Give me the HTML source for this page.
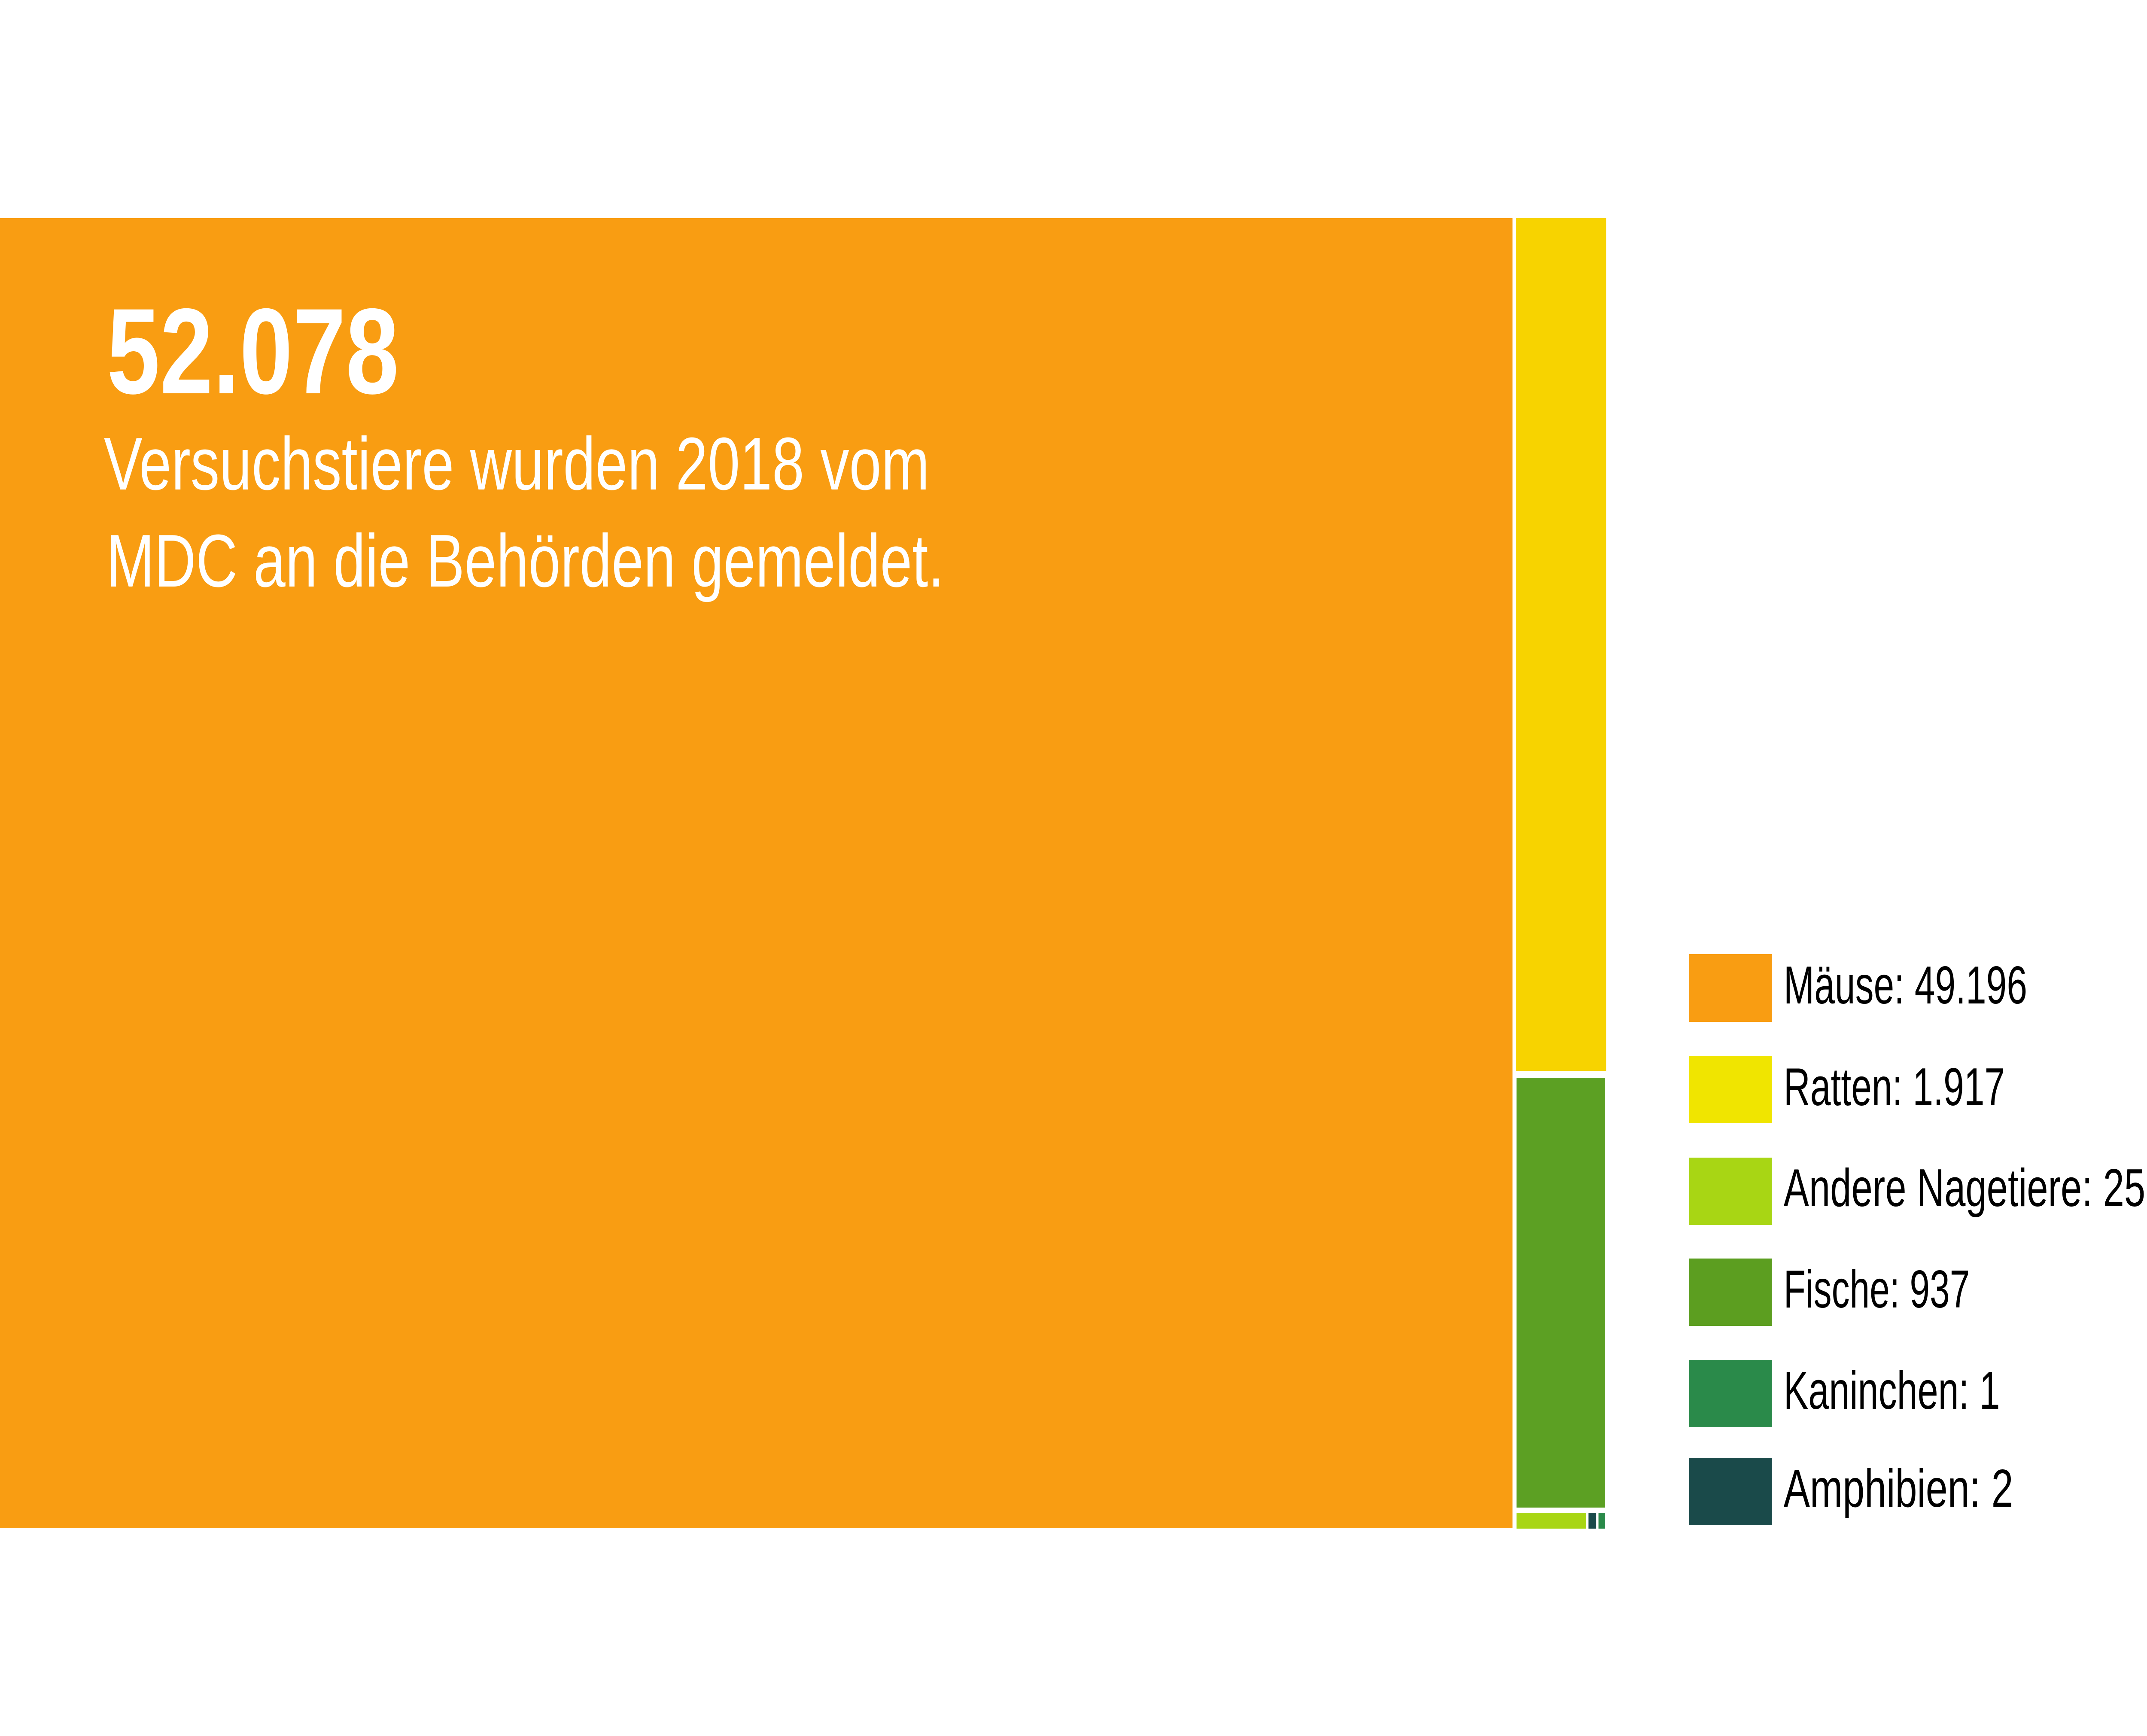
<!DOCTYPE html>
<html><head><meta charset="utf-8"><style>
html,body{margin:0;padding:0;background:#fff;width:100%;height:100%;overflow:hidden}
svg{display:block;position:absolute;left:0;top:0;width:100vw;height:100vh}
</style></head><body>
<svg viewBox="0 0 6470 4043" preserveAspectRatio="none" xmlns="http://www.w3.org/2000/svg">
<rect x="0" y="0" width="6470" height="4043" fill="#fff"/>
<rect x="0" y="508" width="4558" height="3051" fill="#F99D12"/>
<rect x="4568" y="508" width="272" height="1986" fill="#F7D300"/>
<rect x="4570" y="2510" width="267" height="1001" fill="#5CA023"/>
<rect x="4570" y="3523" width="210" height="37" fill="#A8D614"/>
<rect x="4787" y="3523" width="23" height="37" fill="#1A4A4A"/>
<rect x="4817" y="3523" width="20" height="37" fill="#2A8A4A"/>
<g font-family="Liberation Sans, sans-serif" fill="#fff">
<text x="322" y="916" font-size="284" font-weight="bold" textLength="880" lengthAdjust="spacingAndGlyphs">52.078</text>
<text x="313" y="1140" font-size="174" textLength="2488" lengthAdjust="spacingAndGlyphs">Versuchstiere wurden 2018 vom</text>
<text x="321" y="1366" font-size="174" textLength="2524" lengthAdjust="spacingAndGlyphs">MDC an die Behörden gemeldet.</text>
</g>
<rect x="5090" y="2222" width="250" height="158" fill="#F99D12"/>
<rect x="5090" y="2459" width="250" height="157" fill="#F0E500"/>
<rect x="5090" y="2696" width="250" height="157" fill="#A8D614"/>
<rect x="5090" y="2931" width="250" height="157" fill="#5C9E20"/>
<rect x="5090" y="3167" width="250" height="157" fill="#2A8A4A"/>
<rect x="5090" y="3395" width="250" height="157" fill="#1A4A4A"/>
<g font-family="Liberation Sans, sans-serif" fill="#000" font-size="124">
<text x="5375" y="2337" textLength="734" lengthAdjust="spacingAndGlyphs">Mäuse: 49.196</text>
<text x="5375" y="2574" textLength="667" lengthAdjust="spacingAndGlyphs">Ratten: 1.917</text>
<text x="5375" y="2809" textLength="1090" lengthAdjust="spacingAndGlyphs">Andere Nagetiere: 25</text>
<text x="5375" y="3045" textLength="561" lengthAdjust="spacingAndGlyphs">Fische: 937</text>
<text x="5375" y="3281" textLength="652" lengthAdjust="spacingAndGlyphs">Kaninchen: 1</text>
<text x="5375" y="3509" textLength="692" lengthAdjust="spacingAndGlyphs">Amphibien: 2</text>
</g>
</svg>
</body></html>
